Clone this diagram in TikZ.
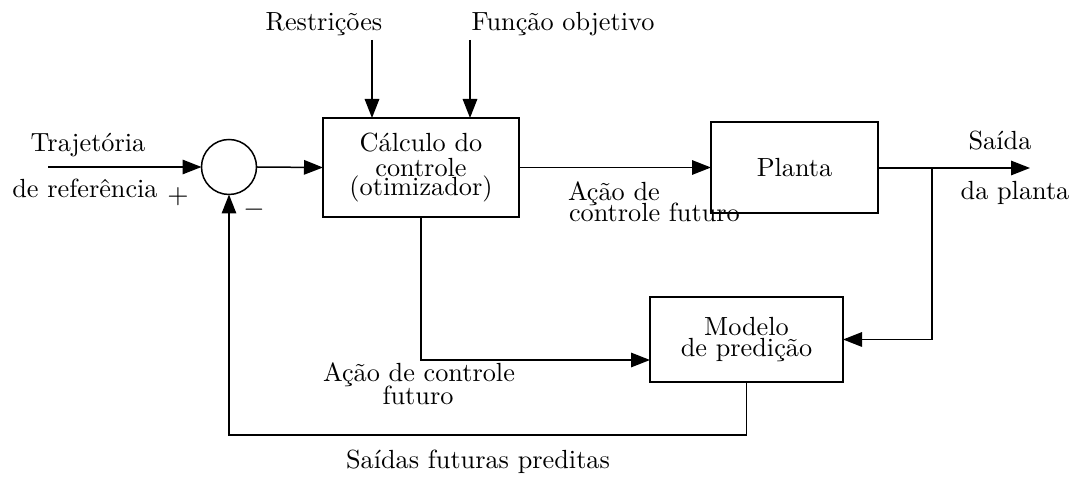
\documentclass[tikz,border=0pt]{standalone}
\usepackage{fontspec}
\usetikzlibrary{arrows.meta,calc}
\begin{document}
\begin{tikzpicture}[x=0.4pt,y=-0.4pt,
  every node/.style={font=\fontsize{10.5}{8.4}\selectfont,inner sep=0pt,outer sep=0pt},
  blk/.style={draw,line width=0.6pt,align=center},
  lbl/.style={anchor=base},
  arr/.style={line width=0.6pt,-{Triangle[length=7.6pt,width=5.8pt]}},
  ln/.style={line width=0.6pt}]
\useasboundingbox (0,0) rectangle (1074,478);
% blocks
\node[draw,line width=0.6pt,circle,minimum size=22pt] (sum) at (229,167) {};
\node[blk,minimum width=78.4pt,minimum height=39.6pt] (opt) at (421,167.5) {Cálculo do\\[1.8pt]controle\\[-0.8pt](otimizador)};
\node[blk,minimum width=66.8pt,minimum height=36.4pt] (plant) at (794.5,167.5) {Planta};
\node[blk,minimum width=77.2pt,minimum height=34pt] (model) at (746.5,339.5) {Modelo\\de predição};
% labels
\node[lbl] (t1) at (88,152) {Trajetória};
\node[lbl] (t2) at (85,198) {de referência};
\node (plus) at (178,197) {$+$};
\node (minus) at (254,210) {$-$};
\node[lbl] (rest) at (324,31) {Restrições};
\node[lbl] (fobj) at (563,31) {Função objetivo};
\node[anchor=base west] (a1) at (568,201) {Ação de};
\node[anchor=base west] (a2) at (569,222) {controle futuro};
\node[lbl] (s1) at (1000,150) {Saída};
\node[lbl] (s2) at (1015,200) {da planta};
\node[lbl] (b1) at (419,382) {Ação de controle};
\node[lbl] (b2) at (418,405) {futuro};
\node[lbl] (sf) at (478,469) {Saídas futuras preditas};
% coordinates
\coordinate (in) at (48,167);
\coordinate (rtop) at (372,40);
\coordinate (ftop) at (470,40);
\coordinate (out) at (1030,168);
\coordinate (br) at (932,168);
\coordinate (fb) at (229,435);
% connectors
\draw[arr] (in) -- (sum.west);
\draw[arr] (sum.east) -- (opt.west);
\draw[arr] (rtop) -- (rtop |- opt.north);
\draw[arr] (ftop) -- (ftop |- opt.north);
\draw[arr] (opt.east) -- (plant.west);
\draw[arr] (plant.east |- out) -- (out);
\draw[arr] (br) |- (model.east);
\draw[arr] (opt.south) |- ([yshift=-8.2pt]model.west);
\draw[arr] (model.south) |- (fb) -- (sum.south);
\end{tikzpicture}
\end{document}
